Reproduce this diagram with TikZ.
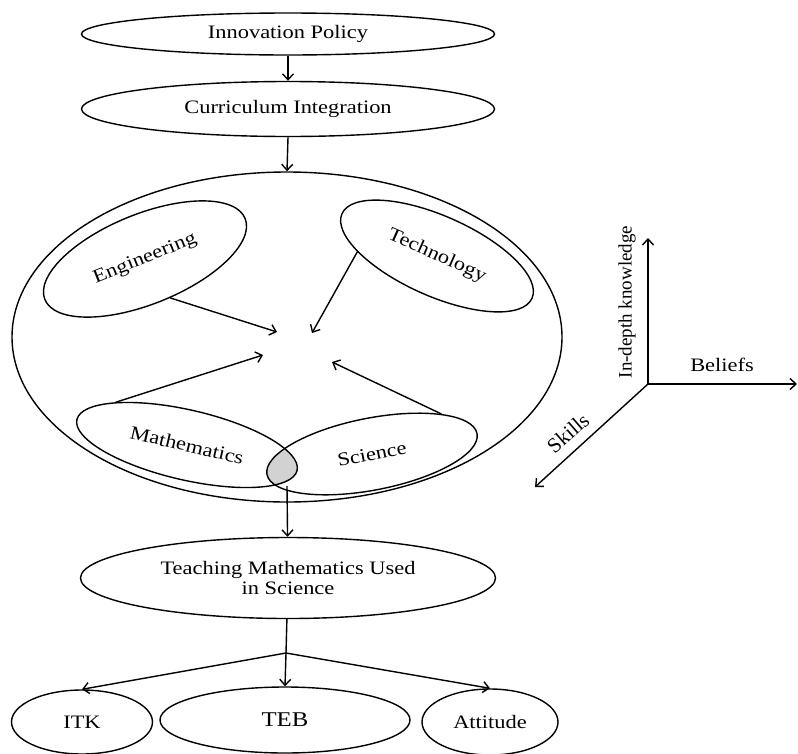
\documentclass[tikz,border=0pt]{standalone}
\usepackage{fontspec}
\setmainfont{Liberation Serif}[FakeStretch=1.18]
\newfontfamily\uprightfont{Liberation Serif}
\usepackage{tikz}
\usetikzlibrary{arrows.meta,shapes.geometric}
\tikzset{
  bubble/.style = {ellipse, draw=black, line width=1.4pt, inner sep=0pt,
    align=center, font=\fontsize{19}{20}\selectfont},
  stage/.style = {bubble, minimum width=413pt},% flow ellipse
  field/.style 2 args = {bubble, minimum width=#1, minimum height=#2},% stem subject
  tag/.style = {font=\uprightfont\fontsize{19}{20}\selectfont, inner sep=0pt}% axis label
}

\begin{document}
\begin{tikzpicture}[x=1pt, y=-1pt, >={Straight Barb[length=6pt,width=11pt]}, line width=1.4pt]
\useasboundingbox (0,0) rectangle (798,753);
\clip (0,0) rectangle (798,753);
% overlap of mathematics and science
\coordinate (mc) at (187,445);
\coordinate (sc) at (372,454);
\begin{scope}
  \clip[rotate around={-13:(mc)}] (mc) ellipse (113 and 35);
  \fill[gray!35, rotate around={11:(sc)}] (sc) ellipse (107 and 36);
\end{scope}

\node[stage, minimum height=42pt] (ip) at (288,34) {Innovation Policy};
\node[stage, minimum height=55pt] (ci) at (288,109) {Curriculum Integration};
\node[bubble, minimum width=550pt, minimum height=330pt] (stem) at (287,337) {};
\node[field={216pt}{90pt}, rotate=22] (eng) at (145,259) {Engineering};
\node[field={208pt}{80pt}, rotate=-24] (tech) at (437,256) {Technology};
\node[field={226pt}{70pt}, rotate=-13] (math) at (mc) {Mathematics};
\node[field={214pt}{72pt}, rotate=11] (sci) at (sc) {Science};
\node[stage, minimum width=415pt, minimum height=81pt] (teach) at (288,578)
  {Teaching Mathematics Used\\in Science};
\node[field={141pt}{64pt}] (itk) at (82,722) {ITK};
\node[field={250pt}{66pt}, font=\fontsize{21}{22}\selectfont] (teb) at (285,720) {TEB};
\node[field={136pt}{66pt}] (att) at (490,722) {Attitude};

\draw[->] (ip) -- (ci);
\draw[->] (ci.south) -- (stem.north);

% arrows into the middle
\coordinate (engtip) at (277,332);
\coordinate (techtip) at (312,333);
\coordinate (mathtip) at (263,355);
\coordinate (scitip) at (332,362);
\draw[->] (eng.-79) -- (engtip);
\draw[->] (tech.-159) -- (techtip);
\draw[->] (math.162) -- (mathtip);
\draw[->] (sci.19) -- (scitip);

\coordinate (overlap) at (287,486);
\draw[->] (overlap) -- (teach);
\coordinate (split) at (286,653);
\draw (teach) -- (split);
\draw[->] (split) -- (itk.north);
\draw[->] (split) -- (teb.north);
\draw[->] (split) -- (att.north);

% three axes
\coordinate (origin) at (648,384);
\coordinate (knowtip) at (648,238);
\coordinate (belieftip) at (797,384);
\coordinate (skilltip) at (535,487);
\draw[->] (origin) -- (knowtip);
\draw[->] (origin) -- (belieftip);
\draw[->] (origin) -- (skilltip);
\node[tag, rotate=90] (know) at (627,302) {In-depth knowledge};
\node[tag, font=\fontsize{19}{20}\selectfont] (beliefs) at (722,365) {Beliefs};
\node[tag, font=\uprightfont\fontsize{21}{22}\selectfont, rotate=41] (skills) at (568,433) {Skills};
\end{tikzpicture}
\end{document}
